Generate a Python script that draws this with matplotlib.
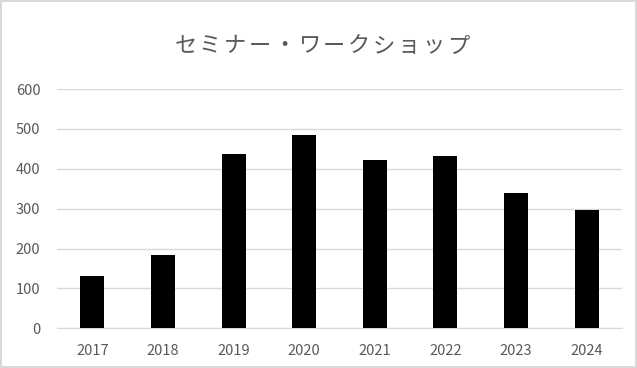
import matplotlib.pyplot as plt
import numpy as np

plt.rcParams['font.family'] = ['Noto Sans CJK JP', 'DejaVu Sans']

title = "セミナー・ワークショップ"
years = ["2017", "2018", "2019", "2020", "2021", "2022", "2023", "2024"]
counts = [131, 183, 438, 484, 422, 433, 340, 296]

grey = "#595959"
grid_c = "#d9d9d9"

fig = plt.figure(figsize=(6.37, 3.68), dpi=100)
fig.patch.set_edgecolor(grid_c)
fig.patch.set_linewidth(1.5)
ax = fig.add_axes([0.0895, 0.108, 0.887, 0.65])

x = np.arange(len(years))
ax.bar(x, counts, width=0.34, color="black", zorder=3)

ax.set_xlim(-0.5, len(years) - 0.5)
ax.set_ylim(0, 600)
ax.set_yticks(np.arange(0, 601, 100))
ax.set_xticks(x)
ax.set_xticklabels(years)
ax.grid(axis="y", color=grid_c, lw=1, zorder=0)
ax.tick_params(length=0, colors=grey, labelsize=10.5)
ax.tick_params(axis="y", pad=12)
ax.tick_params(axis="x", pad=11)
for sp in ["top", "right", "left"]:
    ax.spines[sp].set_visible(False)
ax.spines["bottom"].set_color(grid_c)

# title with a little extra letter spacing
pitch = 24.8 / 637
x0 = 0.505 - pitch * (len(title) - 1) / 2
for i, ch in enumerate(title):
    fig.text(x0 + i * pitch, 0.875, ch, ha="center", va="center",
             fontsize=16, color=grey)

fig.savefig("out.png", dpi=100, edgecolor=fig.get_edgecolor())
